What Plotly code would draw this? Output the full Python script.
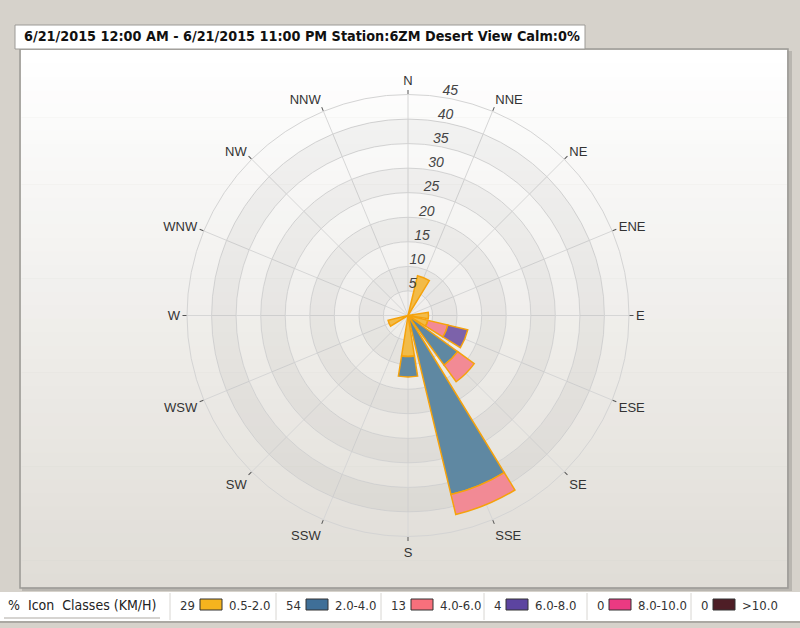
import plotly.graph_objects as go

# ---- data -------------------------------------------------------------
directions = ["N", "NNE", "NE", "ENE", "E", "ESE", "SE", "SSE",
              "S", "SSW", "SW", "WSW", "W", "WNW", "NW", "NNW"]
dir_angles = [0, 22.5, 45, 67.5, 90, 112.5, 135, 157.5,
              180, 202.5, 225, 247.5, 270, 292.5, 315, 337.5]

class_names = ["0.5-2.0", "2.0-4.0", "4.0-6.0", "6.0-8.0", "8.0-10.0", ">10.0"]

# frequency (%) per direction for each speed class (KM/H)
freq_05_20 = [0, 8.33, 0, 0, 4.17, 4.17, 0, 0, 8.33, 0, 0, 4.17, 0, 0, 0, 0]
freq_20_40 = [0, 0, 0, 0, 0, 0, 12.5, 37.5, 4.17, 0, 0, 0, 0, 0, 0, 0]
freq_40_60 = [0, 0, 0, 0, 0, 4.17, 4.17, 4.17, 0, 0, 0, 0, 0, 0, 0, 0]
freq_60_80 = [0, 0, 0, 0, 0, 4.17, 0, 0, 0, 0, 0, 0, 0, 0, 0, 0]
freq_80_100 = [0] * 16
freq_100_up = [0] * 16
class_freqs = [freq_05_20, freq_20_40, freq_40_60, freq_60_80, freq_80_100, freq_100_up]

radial_ticks = [5, 10, 15, 20, 25, 30, 35, 40, 45]

title_text = "6/21/2015 12:00 AM - 6/21/2015 11:00 PM Station:6ZM Desert View Calm:0%"

# ---- styling ----------------------------------------------------------
W, H = 800, 628
fill_colors = ["#f2bb48", "#5f88a2", "#f28a95", "#7c62aa", "#ec4a8c", "#5a2a32"]
box_colors = ["#f5b41e", "#3f6f98", "#f7707c", "#5c44a0", "#ea3a82", "#4e1e26"]
edge_color = "#f5a20c"
narrow = "Liberation Sans Narrow, DejaVu Sans Condensed, Arial Narrow"


def px(x):
    return x / W


def py(y):
    return 1 - y / H


def blend(c1, c2, t):
    a = [int(c1[i:i + 2], 16) for i in (1, 3, 5)]
    b = [int(c2[i:i + 2], 16) for i in (1, 3, 5)]
    return "#" + "".join(f"{round(a[k] + (b[k] - a[k]) * t):02x}" for k in range(3))


fig = go.Figure()

# alternating ring bands of the grid
for lo in [5, 15, 25, 35]:
    fig.add_trace(go.Barpolar(
        theta=[45, 135, 225, 315], r=[5] * 4, base=[lo] * 4, width=[90] * 4,
        marker=dict(color="rgba(0,0,0,0.035)", line=dict(width=0)),
        hoverinfo="skip", showlegend=False))

# stacked wind-rose bars
for name, vals, col in zip(class_names, class_freqs, fill_colors):
    fig.add_trace(go.Barpolar(
        theta=dir_angles, r=vals, width=[18] * 16, name=name,
        marker=dict(color=col, line=dict(color=edge_color, width=1.5)),
        showlegend=False))

# radial scale labels along the north spoke
fig.add_trace(go.Scatterpolar(
    theta=[11] * len(radial_ticks), r=radial_ticks,
    mode="text", text=[str(v) for v in radial_ticks], textposition="top center",
    textfont=dict(family="Liberation Sans, Arial", size=14, color="#444444",
                  style="italic"),
    cliponaxis=False, hoverinfo="skip", showlegend=False))

cx, cy, rad = 408, 315.5, 221
fig.update_layout(
    width=W, height=H,
    margin=dict(l=0, r=0, t=0, b=0),
    paper_bgcolor="#d6d2cb",
    showlegend=False,
    polar=dict(
        domain=dict(x=[px(cx - rad), px(cx + rad)], y=[py(cy + rad), py(cy - rad)]),
        bgcolor="rgba(0,0,0,0)",
        barmode="stack",
        radialaxis=dict(range=[0, 45], tickvals=radial_ticks, showticklabels=False,
                        ticks="", showline=False, gridcolor="#d6d6d6", gridwidth=1,
                        layer="above traces"),
        angularaxis=dict(rotation=90, direction="clockwise", tickvals=dir_angles,
                         ticktext=directions, ticks="outside", ticklen=4,
                         tickcolor="#555555", showline=True, linecolor="#d4d4d4",
                         gridcolor="#d6d6d6",
                         tickfont=dict(family="Liberation Sans, Arial", size=13,
                                       color="#333333"),
                         layer="above traces"),
    ),
)

shapes = []
# outer panel with soft vertical gradient
shapes.append(dict(type="rect", xref="paper", yref="paper", x0=px(22), x1=px(792),
                   y0=py(591), y1=py(51), fillcolor="#b9b6b0", line=dict(width=0),
                   layer="below"))
n_bands = 40
top, bot = 50, 587
for i in range(n_bands):
    y0 = top + (bot - top) * i / n_bands
    y1 = top + (bot - top) * (i + 1) / n_bands + 0.6
    shapes.append(dict(type="rect", xref="paper", yref="paper", x0=px(21), x1=px(787),
                       y0=py(y1), y1=py(y0),
                       fillcolor=blend("#ffffff", "#e0ddd7", i / (n_bands - 1)),
                       line=dict(width=0), layer="below"))
shapes.append(dict(type="rect", xref="paper", yref="paper", x0=px(20), x1=px(788),
                   y0=py(588), y1=py(49), line=dict(color="#9c9a96", width=1.5),
                   fillcolor="rgba(0,0,0,0)", layer="below"))
# title tab
shapes.append(dict(type="rect", xref="paper", yref="paper", x0=px(15), x1=px(585),
                   y0=py(49), y1=py(25), fillcolor="#ffffff",
                   line=dict(color="#9c9a96", width=1), layer="below"))
# legend strip
shapes.append(dict(type="rect", xref="paper", yref="paper", x0=px(0), x1=px(800),
                   y0=py(621), y1=py(592), fillcolor="#ffffff",
                   line=dict(width=0), layer="below"))
shapes.append(dict(type="line", xref="paper", yref="paper", x0=px(0), x1=px(800),
                   y0=py(622), y1=py(622), line=dict(color="#9c9a96", width=1.5)))
shapes.append(dict(type="line", xref="paper", yref="paper", x0=px(4), x1=px(160),
                   y0=py(618), y1=py(618), line=dict(color="#c8c6c2", width=1.5)))

annotations = [
    dict(x=px(22), y=py(36), xref="paper", yref="paper", xanchor="left", yanchor="middle",
         text=title_text, showarrow=False,
         font=dict(family="DejaVu Sans Condensed, DejaVu Sans", size=14.3, color="#111111",
                   weight="bold")),
    dict(x=px(6), y=py(605), xref="paper", yref="paper", xanchor="left", yanchor="middle",
         text="%  Icon  Classes (KM/H)", showarrow=False,
         font=dict(family=narrow, size=14, color="#222222")),
]

# legend cells: percentage, colour box, class label
seps = [170, 276, 381, 484, 587, 691]
for i, (name, vals) in enumerate(zip(class_names, class_freqs)):
    total = int(sum(vals) + 0.5)
    x0 = seps[i]
    shapes.append(dict(type="line", xref="paper", yref="paper", x0=px(x0), x1=px(x0),
                       y0=py(620), y1=py(593), line=dict(color="#d8d6d2", width=1)))
    annotations.append(dict(x=px(x0 + 8), y=py(605), xref="paper", yref="paper",
                            xanchor="left", yanchor="middle", text=str(total),
                            showarrow=False,
                            font=dict(family=narrow, size=13, color="#333333")))
    bx = x0 + (30 if total >= 10 else 22)
    shapes.append(dict(type="rect", xref="paper", yref="paper", x0=px(bx), x1=px(bx + 22),
                       y0=py(610), y1=py(599), fillcolor=box_colors[i],
                       line=dict(color="#333333", width=1)))
    annotations.append(dict(x=px(bx + 27), y=py(605), xref="paper", yref="paper",
                            xanchor="left", yanchor="middle", text=name, showarrow=False,
                            font=dict(family=narrow, size=13, color="#333333")))

fig.update_layout(shapes=shapes, annotations=annotations)
fig.write_html("out.html")
